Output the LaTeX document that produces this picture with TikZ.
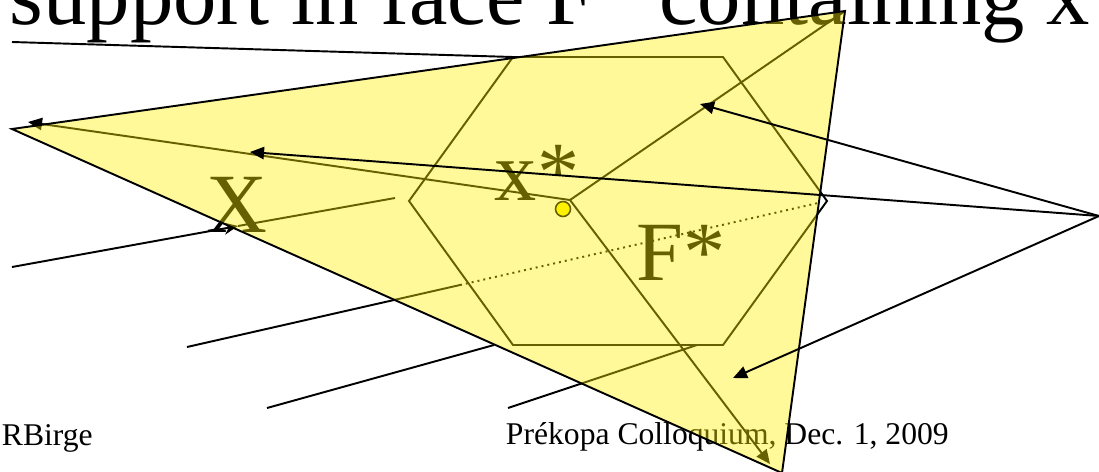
\documentclass[tikz,border=0pt]{standalone}
\usepackage{fontspec}
\setmainfont{Liberation Serif}
\usetikzlibrary{arrows.meta}

\begin{document}
\begin{tikzpicture}[x=0.02cm,y=-0.02cm,line width=1.1pt,>={Triangle[length=8pt,width=7pt]},
    big/.style={font=\fontsize{48}{50}\selectfont,anchor=base west,inner sep=0pt},
    foot/.style={font=\fontsize{18}{20}\selectfont,anchor=base west,inner sep=0pt}]
  \useasboundingbox (0,0) rectangle (1099,471);
  \fill[white] (0,0) rectangle (1099,471);
  % corners of the polytope X and the point x*
  \coordinate (vA) at (12,129);
  \coordinate (vB) at (845,11);
  \coordinate (vC) at (782,473);
  \coordinate (xs) at (570,200);
  \coordinate (src) at (1099,216);
  % face F* (hexagon)
  \coordinate (h1) at (513,57);
  \coordinate (h2) at (723,57);
  \coordinate (h3) at (827,201);
  \coordinate (h4) at (723,345);
  \coordinate (h5) at (513,345);
  \coordinate (h6) at (409,201);
  \node[big,font=\fontsize{49.3}{52}\selectfont] (title) at (9,24) {support in face F* containing x*};
  \draw (h1) -- (h2) -- (h3) -- (h4) -- (h5) -- (h6) -- cycle;
  % level lines
  \coordinate (l1a) at (12,267);  \coordinate (l1m) at (238,226);  \coordinate (l1b) at (395,198);
  \coordinate (l2a) at (187,347); \coordinate (l2m) at (460,285);  \coordinate (l2b) at (818,203);
  \coordinate (l3a) at (267,408); \coordinate (l3b) at (494,345);
  \coordinate (l4a) at (508,408); \coordinate (l4b) at (697,345);
  \draw (12,42) -- (h1);
  \draw[-{Stealth[length=8pt,width=7pt]}] (l1a) -- (l1m);
  \draw (l1m) -- (l1b);
  \draw (l2a) -- (l2m);
  \draw[dash pattern=on 1.1pt off 2.3pt] (l2m) -- (l2b);
  \draw (l3a) -- (l3b);
  \draw (l4a) -- (l4b);
  % edges out of x*
  \coordinate (tipA) at (28,122);
  \coordinate (tipC) at (770,464);
  \draw[->] (xs) -- (tipA);
  \draw (xs) -- (vB);
  \draw[->] (xs) -- (tipC);
  \draw[fill=yellow,line width=0.9pt] (563,209) circle (7.5);
  \node[big] (lblX) at (206,232) {X};
  \node[big] (lblxs) at (494,200) {x*};
  \node[big] (lblF) at (636,280) {F*};
  \node[foot] (author) at (1,445) {RBirge};
  \node[foot] (venue) at (505,444) {Prékopa Colloquium, Dec. 1, 2009};
  % X on top, see-through
  \fill[yellow,fill opacity=0.4] (vA) -- (vB) -- (vC) -- cycle;
  \draw (vA) -- (vB) -- (vC) -- cycle;
  % arrows from the right
  \coordinate (t1) at (700,104);
  \coordinate (t2) at (250,152);
  \coordinate (t3) at (733,378);
  \draw[->] (src) -- (t1);
  \draw[->] (src) -- (t2);
  \draw[->] (src) -- (t3);
\end{tikzpicture}
\end{document}
